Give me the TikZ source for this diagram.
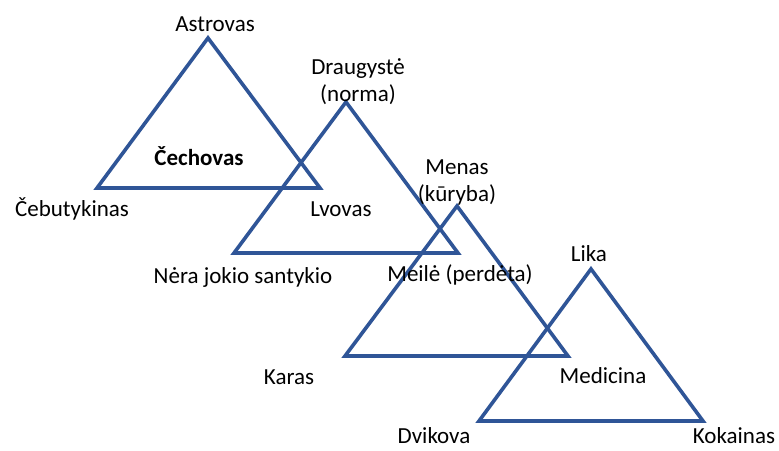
\documentclass[tikz,border=0pt]{standalone}
\usepackage{fontspec}
\setmainfont{Carlito}
\definecolor{triblue}{RGB}{47,85,151}
\begin{document}
\begin{tikzpicture}[x=1pt,y=-1pt,
  tri/.style={draw=triblue, line width=3.6pt, line join=miter},
  lab/.style={font=\fontsize{23}{27}\selectfont, inner sep=0pt, anchor=base, text=black},
  lab2/.style={lab, align=center}]
\useasboundingbox (0,0) rectangle (779,450);
% triangle 1
\coordinate (a1) at (208,38);
\coordinate (b1) at (97,188);
\coordinate (c1) at (320,188);
% triangle 2
\coordinate (a2) at (346,102);
\coordinate (b2) at (234,253);
\coordinate (c2) at (458,253);
% triangle 3
\coordinate (a3) at (457,206);
\coordinate (b3) at (345,356);
\coordinate (c3) at (568,356);
% triangle 4
\coordinate (a4) at (591,269);
\coordinate (b4) at (479,421);
\coordinate (c4) at (703,421);
\draw[tri] (a1) -- (b1) -- (c1) -- cycle;
\draw[tri] (a2) -- (b2) -- (c2) -- cycle;
\draw[tri] (a3) -- (b3) -- (c3) -- cycle;
\draw[tri] (a4) -- (b4) -- (c4) -- cycle;
% labels
\node[lab] (astrovas) at (215,31) {Astrovas};
\node[lab, font=\fontsize{23}{27}\selectfont\bfseries] (cechovas) at (199,165) {Čechovas};
\node[lab] (cebutykinas) at (72,216) {Čebutykinas};
\node[lab] (lvovas) at (341,216) {Lvovas};
\node[lab2] (draugyste) at (358,101) {Draugystė\\(norma)};
\node[lab] (nera) at (243,283) {Nėra jokio santykio};
\node[lab2] (menas) at (457,201) {Menas\\(kūryba)};
\node[lab] (meile) at (460,281) {Meilė (perdėta)};
\node[lab] (karas) at (289,384) {Karas};
\node[lab] (lika) at (589,261) {Lika};
\node[lab] (medicina) at (603,383) {Medicina};
\node[lab] (dvikova) at (434,443) {Dvikova};
\node[lab] (kokainas) at (734,443) {Kokainas};
\end{tikzpicture}
\end{document}
